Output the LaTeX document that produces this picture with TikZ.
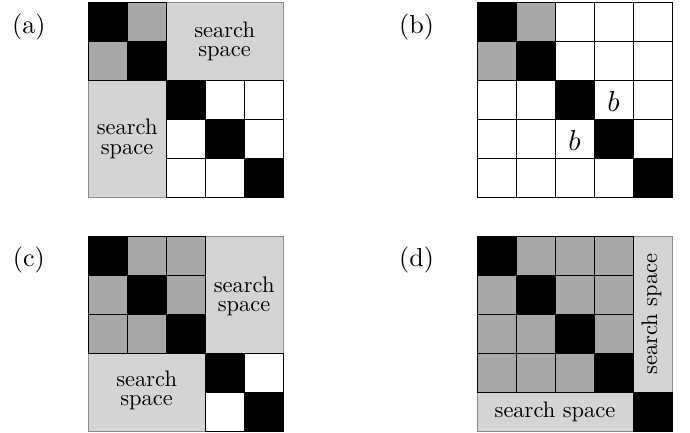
\documentclass[tikz,border=0pt]{standalone}
\usetikzlibrary{positioning}
\definecolor{cellgray}{gray}{0.66}
\definecolor{searchgray}{gray}{0.83}
\begin{document}
\begin{tikzpicture}[line width=0.5pt,
    diag/.style = {draw=black, fill=black},
    offd/.style = {draw=black, fill=cellgray},
    search/.style = {draw=black!45, fill=searchgray},
    txt/.style = {font=\fontsize{10}{8.5}\selectfont, align=center, scale=1.64},
    tag/.style = {font=\fontsize{10}{12}\selectfont, scale=1.9},
    entry/.style = {font=\fontsize{10}{12}\selectfont, scale=2.1}]
  \useasboundingbox (0,0) rectangle (17.69,11.08);

  % (a)
  \begin{scope}[shift={(2.26,6.02)}]
    \draw[search] (2,3) rectangle (5,5);
    \draw[search] (0,0) rectangle (2,3);
    \fill[cellgray] (0,3) rectangle (2,5);
    \draw (0,3) grid (2,5);
    \draw (2,0) grid (5,3);
    \foreach \k in {0,...,4}
      \draw[diag] (\k,4-\k) rectangle ++(1,1);
    \node[txt] (a-top) at (3.5,4) {search\\space};
    \node[txt] (a-left) at (1,1.5) {search\\space};
    \node[tag] (a-tag) at (-1.52,4.38) {(a)};
  \end{scope}

  % (b)
  \begin{scope}[shift={(12.23,6.02)}]
    \draw (0,0) grid (5,5);
    \draw[offd] (1,4) rectangle ++(1,1);
    \draw[offd] (0,3) rectangle ++(1,1);
    \foreach \k in {0,...,4}
      \draw[diag] (\k,4-\k) rectangle ++(1,1);
    \node[entry] (b-up) at (3.5,2.45) {$b$};
    \node[entry] (b-low) at (2.5,1.45) {$b$};
    \node[tag] (b-tag) at (-1.55,4.38) {(b)};
  \end{scope}

  % (c)
  \begin{scope}[shift={(2.26,0.03)}]
    \draw[search] (3,2) rectangle (5,5);
    \draw[search] (0,0) rectangle (3,2);
    \fill[cellgray] (0,2) rectangle (3,5);
    \draw (0,2) grid (3,5);
    \draw (3,0) grid (5,2);
    \foreach \k in {0,...,4}
      \draw[diag] (\k,4-\k) rectangle ++(1,1);
    \node[txt] (c-top) at (4,3.45) {search\\space};
    \node[txt] (c-left) at (1.5,1.05) {search\\space};
    \node[tag] (c-tag) at (-1.52,4.38) {(c)};
  \end{scope}

  % (d)
  \begin{scope}[shift={(12.23,0.03)}]
    \draw[search] (4,1) rectangle (5,5);
    \draw[search] (0,0) rectangle (4,1);
    \fill[cellgray] (0,1) rectangle (4,5);
    \draw (0,1) grid (4,5);
    \foreach \k in {0,...,4}
      \draw[diag] (\k,4-\k) rectangle ++(1,1);
    \node[txt, rotate=90] (d-right) at (4.47,3) {search space};
    \node[txt] (d-bottom) at (2,0.5) {search space};
    \node[tag] (d-tag) at (-1.55,4.38) {(d)};
  \end{scope}
\end{tikzpicture}
\end{document}
